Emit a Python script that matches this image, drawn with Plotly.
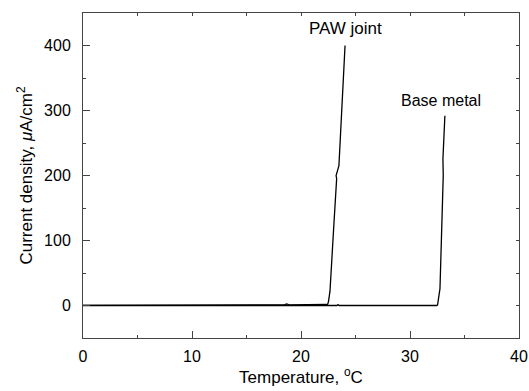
import plotly.graph_objects as go

# Data
paw_temp = [0, 11.2, 18.5, 18.7, 18.9, 22.3, 22.45, 22.52, 22.66, 23.0, 23.2, 23.27, 23.22, 23.48, 23.5, 23.7, 24.04]
paw_cd   = [0.3, 0.5, 1.2, 2.5, 1.0, 1.5, 2.0, 6, 22, 120, 175, 195, 200, 215, 222, 290, 400]

base_temp = [0, 23.3, 23.4, 23.5, 32.45, 32.53, 32.75, 33.0, 33.05, 33.02, 33.2]
base_cd   = [0.0, 0.0, 1.5, 0.0, 0.0, 1.0, 26, 187, 200, 225, 292]

labels = ["PAW joint", "Base metal"]
label_pos_t = [24.05, 32.85]
label_pos_cd = [426, 315]
label_sizes = [17, 16]

axis_col = "#444444"
fam = "Liberation Sans, Arial, sans-serif"
font = dict(family=fam, size=17, color="black")
tfont = dict(family=fam, size=16, color="black")

fig = go.Figure()
fig.add_trace(go.Scatter(x=paw_temp, y=paw_cd, mode="lines",
                         line=dict(color="black", width=1.3), showlegend=False))
fig.add_trace(go.Scatter(x=base_temp, y=base_cd, mode="lines",
                         line=dict(color="black", width=1.3), showlegend=False))
# dummy trace to activate top/right axes
fig.add_trace(go.Scatter(x=[None], y=[None], xaxis="x2", yaxis="y2",
                         showlegend=False, hoverinfo="skip"))

for t, c, lab, s in zip(label_pos_t, label_pos_cd, labels, label_sizes):
    fig.add_annotation(x=t, y=c, text=lab, showarrow=False,
                       font=dict(family=fam, size=s, color="black"), xref="x", yref="y")

fig.update_layout(
    width=529, height=391,
    margin=dict(l=83, r=10, t=13, b=53),
    paper_bgcolor="white", plot_bgcolor="white",
    font=font,
    xaxis=dict(range=[0, 40], tickmode="array", tickvals=[0, 10, 20, 30, 40],
               ticks="inside", ticklen=7, tickcolor=axis_col, tickwidth=1,
               minor=dict(tickvals=[5, 15, 25, 35], ticks="inside", ticklen=3, tickcolor=axis_col),
               showline=True, linecolor=axis_col, linewidth=1, showgrid=False, zeroline=False,
               automargin=False, ticklabelstandoff=4,
               title=dict(text="Temperature, <sup>o</sup>C", font=font, standoff=1),
               tickfont=tfont),
    yaxis=dict(range=[-50, 450], tickmode="array", tickvals=[0, 100, 200, 300, 400],
               ticks="inside", ticklen=7, tickcolor=axis_col, tickwidth=1,
               minor=dict(tickvals=[-50, 50, 150, 250, 350, 450], ticks="inside", ticklen=3, tickcolor=axis_col),
               showline=True, linecolor=axis_col, linewidth=1, showgrid=False, zeroline=False,
               automargin=False, ticklabelstandoff=8,
               title=dict(text="Current density, <i>μ</i>A/cm<sup>2</sup>", font=font, standoff=7),
               tickfont=tfont),
    xaxis2=dict(range=[0, 40], overlaying="x", side="top", anchor="y2",
                tickmode="array", tickvals=[0, 5, 10, 15, 20, 25, 30, 35, 40],
                ticks="inside", ticklen=3, tickcolor=axis_col, showticklabels=False,
                automargin=False,
                showline=True, linecolor=axis_col, linewidth=1, showgrid=False, zeroline=False),
    yaxis2=dict(range=[-50, 450], overlaying="y", side="right", anchor="x2",
                tickmode="array", tickvals=[-50, 0, 50, 100, 150, 200, 250, 300, 350, 400, 450],
                ticks="inside", ticklen=3, tickcolor=axis_col, showticklabels=False,
                automargin=False,
                showline=True, linecolor=axis_col, linewidth=1, showgrid=False, zeroline=False),
)

fig.write_html("out.html", config={"displayModeBar": False},
               post_script="document.body.style.margin='0';document.body.style.padding='0';")
